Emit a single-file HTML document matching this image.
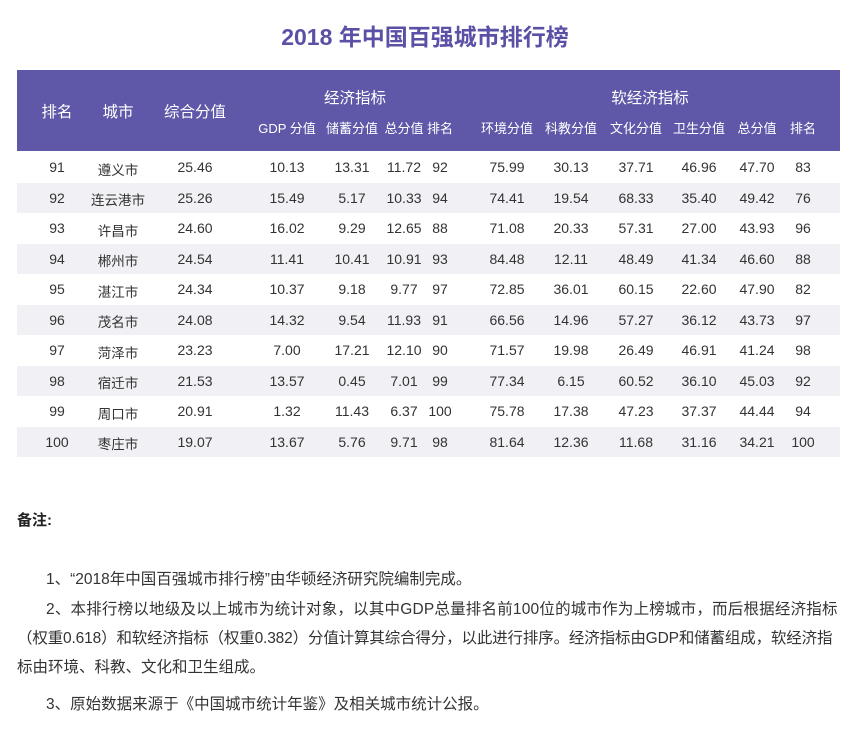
<!DOCTYPE html>
<html><head><meta charset="utf-8"><style>
body{margin:0;width:850px;height:738px;background:#fff;position:relative;overflow:hidden;font-family:"Liberation Sans","Noto Sans CJK SC",sans-serif;color:#333}
.a{position:absolute;white-space:nowrap}
#title{left:0;width:850px;top:18px;text-align:center;font-size:23px;font-weight:bold;color:#5a51a6}
#hdr{left:17px;top:70px;width:823px;height:81px;background:#5f58a8}
.h{position:absolute;color:#fff;transform:translateX(-50%);white-space:nowrap}
.c{position:absolute;transform:translateX(-50%);font-size:14px;color:#333;white-space:nowrap}
.row{position:absolute;left:17px;width:823px;height:30.5px}
.note{font-size:15.5px;color:#333}
</style></head><body>
<div class="a" id="title">2018 年中国百强城市排行榜</div>
<div class="a" id="hdr"></div>
<div id="tbl"></div>
<div class="a" style="left:17px;top:509px;font-size:15px;font-weight:bold;color:#222">备注:</div>
<div class="a note" style="left:46px;top:567px">1、“2018年中国百强城市排行榜”由华顿经济研究院编制完成。</div>
<div class="a note" style="left:46px;top:597px;letter-spacing:0.2px">2、本排行榜以地级及以上城市为统计对象，以其中GDP总量排名前100位的城市作为上榜城市，而后根据经济指标</div>
<div class="a note" style="left:17px;top:626px;letter-spacing:-0.15px">（权重0.618）和软经济指标（权重0.382）分值计算其综合得分，以此进行排序。经济指标由GDP和储蓄组成，软经济指</div>
<div class="a note" style="left:17px;top:655px">标由环境、科教、文化和卫生组成。</div>
<div class="a note" style="left:46px;top:692px">3、原始数据来源于《中国城市统计年鉴》及相关城市统计公报。</div>
<script>
const ranks=["91","92","93","94","95","96","97","98","99","100"];
const cities=["遵义市","连云港市","许昌市","郴州市","湛江市","茂名市","菏泽市","宿迁市","周口市","枣庄市"];
const overall=["25.46","25.26","24.60","24.54","24.34","24.08","23.23","21.53","20.91","19.07"];
const gdp=["10.13","15.49","16.02","11.41","10.37","14.32","7.00","13.57","1.32","13.67"];
const savings=["13.31","5.17","9.29","10.41","9.18","9.54","17.21","0.45","11.43","5.76"];
const econTotal=["11.72","10.33","12.65","10.91","9.77","11.93","12.10","7.01","6.37","9.71"];
const econRank=["92","94","88","93","97","91","90","99","100","98"];
const env=["75.99","74.41","71.08","84.48","72.85","66.56","71.57","77.34","75.78","81.64"];
const edu=["30.13","19.54","20.33","12.11","36.01","14.96","19.98","6.15","17.38","12.36"];
const culture=["37.71","68.33","57.31","48.49","60.15","57.27","26.49","60.52","47.23","11.68"];
const health=["46.96","35.40","27.00","41.34","22.60","36.12","46.91","36.10","37.37","31.16"];
const softTotal=["47.70","49.42","43.93","46.60","47.90","43.73","41.24","45.03","44.44","34.21"];
const softRank=["83","76","96","88","82","97","98","92","94","100"];
const headers=["排名","城市","综合分值","GDP 分值","储蓄分值","总分值","排名","环境分值","科教分值","文化分值","卫生分值","总分值","排名"];
const cols=[57,118,195,287,352,404,440,507,571,636,699,757,803];
const body=document.body;
function h(t,x,y,s,n){const d=document.createElement('div');d.className='h';d.textContent=t;d.style.left=x+'px';d.style.top=y+'px';d.style.fontSize=s+'px';


body.appendChild(d);}
h("经济指标",355,86,15.5,"header-economic-group");
h("软经济指标",650,86,15.5,"header-soft-economic-group");
for(let i=0;i<3;i++)h(headers[i],cols[i],100,15.5,"header-col-"+i);
for(let i=3;i<13;i++)h(headers[i],cols[i],118,13,"header-col-"+i);
const series=[ranks,cities,overall,gdp,savings,econTotal,econRank,env,edu,culture,health,softTotal,softRank];
for(let r=0;r<ranks.length;r++){
 const top=152+r*30.5;
 const row=document.createElement('div');row.className='row';row.style.top=top+'px';row.style.background=r%2?'#f0f0f5':'#fff';
 
 
 body.appendChild(row);
 for(let c=0;c<13;c++){
  const d=document.createElement('div');d.className='c';d.textContent=series[c][r];
  d.style.left=cols[c]+'px';d.style.top=(top+7)+'px';
  if(c===1){d.style.fontSize='13.5px';d.style.top=(top+6.5)+'px';}
  
  
  body.appendChild(d);
 }
}
</script>
</body></html>
